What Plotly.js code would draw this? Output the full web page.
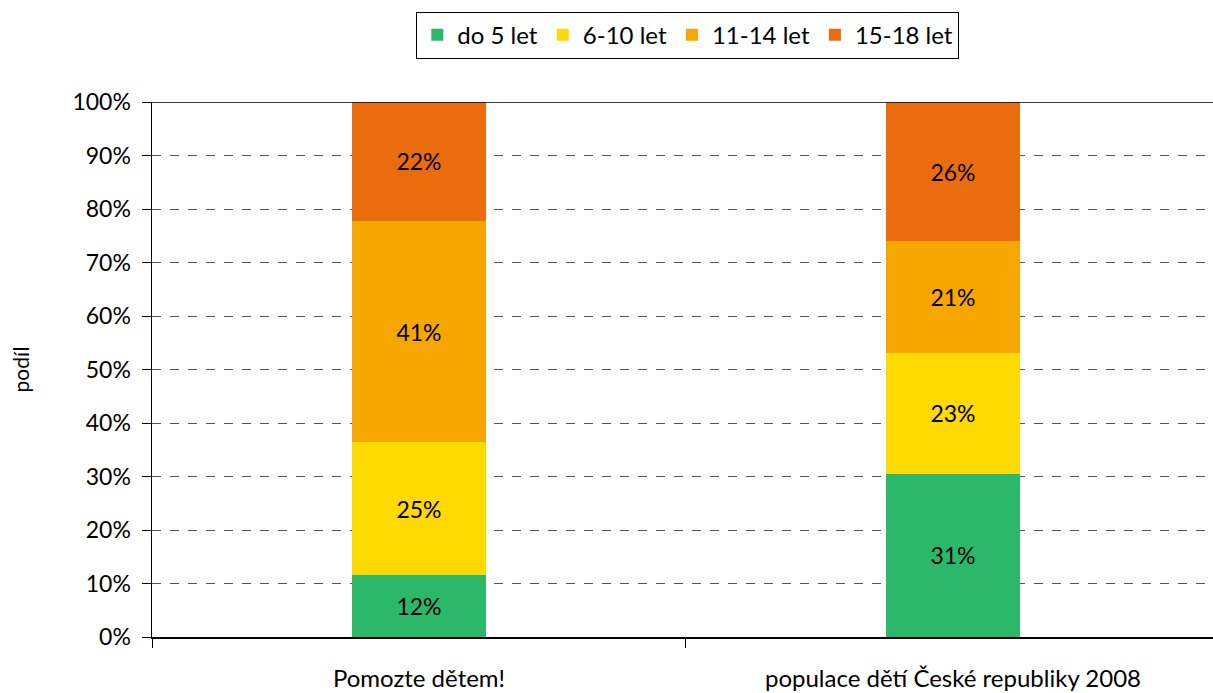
<!DOCTYPE html>
<html>
<head>
<meta charset="utf-8">
<script src="https://cdn.plot.ly/plotly-3.0.1.min.js"></script>
<style>html,body{margin:0;padding:0;background:#fff;}#chart{width:1213px;height:693px;}</style>
</head>
<body>
<div id="chart"></div>
<script>
var categories = ["Pomozte dětem!", "populace dětí České republiky 2008"];
var seriesNames = ["do 5 let", "6-10 let", "11-14 let", "15-18 let"];
var do5 = [11.5, 30.5];
var s6_10 = [24.9, 22.6];
var s11_14 = [41.4, 20.9];
var s15_18 = [22.2, 26.0];
var labels5 = ["12%", "31%"];
var labels6_10 = ["25%", "23%"];
var labels11_14 = ["41%", "21%"];
var labels15_18 = ["22%", "26%"];
var yTicks = [0, 10, 20, 30, 40, 50, 60, 70, 80, 90, 100];
var yTickText = ["0%", "10%", "20%", "30%", "40%", "50%", "60%", "70%", "80%", "90%", "100%"];

var colors = ["#2BB86A", "#FFDA00", "#F5A700", "#EB6C0D"];
var values = [do5, s6_10, s11_14, s15_18];
var texts = [labels5, labels6_10, labels11_14, labels15_18];
var FONT = "Lato, 'Open Sans', sans-serif";

var traces = values.map(function (v, i) {
  return {
    type: "bar",
    name: seriesNames[i],
    x: categories,
    y: v,
    text: texts[i],
    textposition: "inside",
    insidetextanchor: "middle",
    textangle: 0,
    textfont: {family: FONT, size: 23, color: "#000"},
    marker: {color: colors[i], line: {width: 0}},
    width: 0.25,
    hoverinfo: "skip"
  };
});

var layout = {
  width: 1213,
  height: 693,
  margin: {l: 152, r: 0, t: 102, b: 56},
  barmode: "stack",
  paper_bgcolor: "#fff",
  plot_bgcolor: "#fff",
  font: {family: FONT, size: 22, color: "#000"},
  showlegend: true,
  legend: {
    orientation: "h",
    x: 0.505, xanchor: "center",
    y: 1.125, yanchor: "middle",
    bordercolor: "#000",
    borderwidth: 1,
    font: {family: FONT, size: 24, color: "#000"},
    traceorder: "normal",
    itemwidth: 30,
    tracegroupgap: 0
  },
  xaxis: {
    type: "category",
    range: [-0.5, 1.487],
    showgrid: false,
    showline: true,
    linecolor: "#000",
    linewidth: 1.5,
    ticks: "outside",
    tickson: "boundaries",
    ticklen: 9,
    tickcolor: "#000",
    tickwidth: 1,
    ticklabelstandoff: 20,
    tickfont: {family: FONT, size: 24, color: "#000"},
    zeroline: false,
    fixedrange: true
  },
  yaxis: {
    range: [0, 100],
    tickmode: "array",
    tickvals: yTicks,
    ticktext: yTickText,
    showgrid: true,
    gridcolor: "#555",
    griddash: "dash",
    gridwidth: 1,
    showline: true,
    linecolor: "#000",
    linewidth: 1.5,
    ticks: "outside",
    ticklen: 9,
    tickcolor: "#000",
    ticklabelstandoff: 6,
    tickfont: {family: FONT, size: 23, color: "#000"},
    zeroline: false,
    title: {text: "podíl", font: {family: FONT, size: 21, color: "#000"}, standoff: 37},
    fixedrange: true
  },
  shapes: [
    {type: "line", xref: "paper", yref: "y", x0: 0, x1: 1, y0: 100, y1: 100,
     line: {color: "#000", width: 1.5}, layer: "above"}
  ]
};

Plotly.newPlot("chart", traces, layout, {displayModeBar: false, staticPlot: true});
</script>
</body>
</html>
